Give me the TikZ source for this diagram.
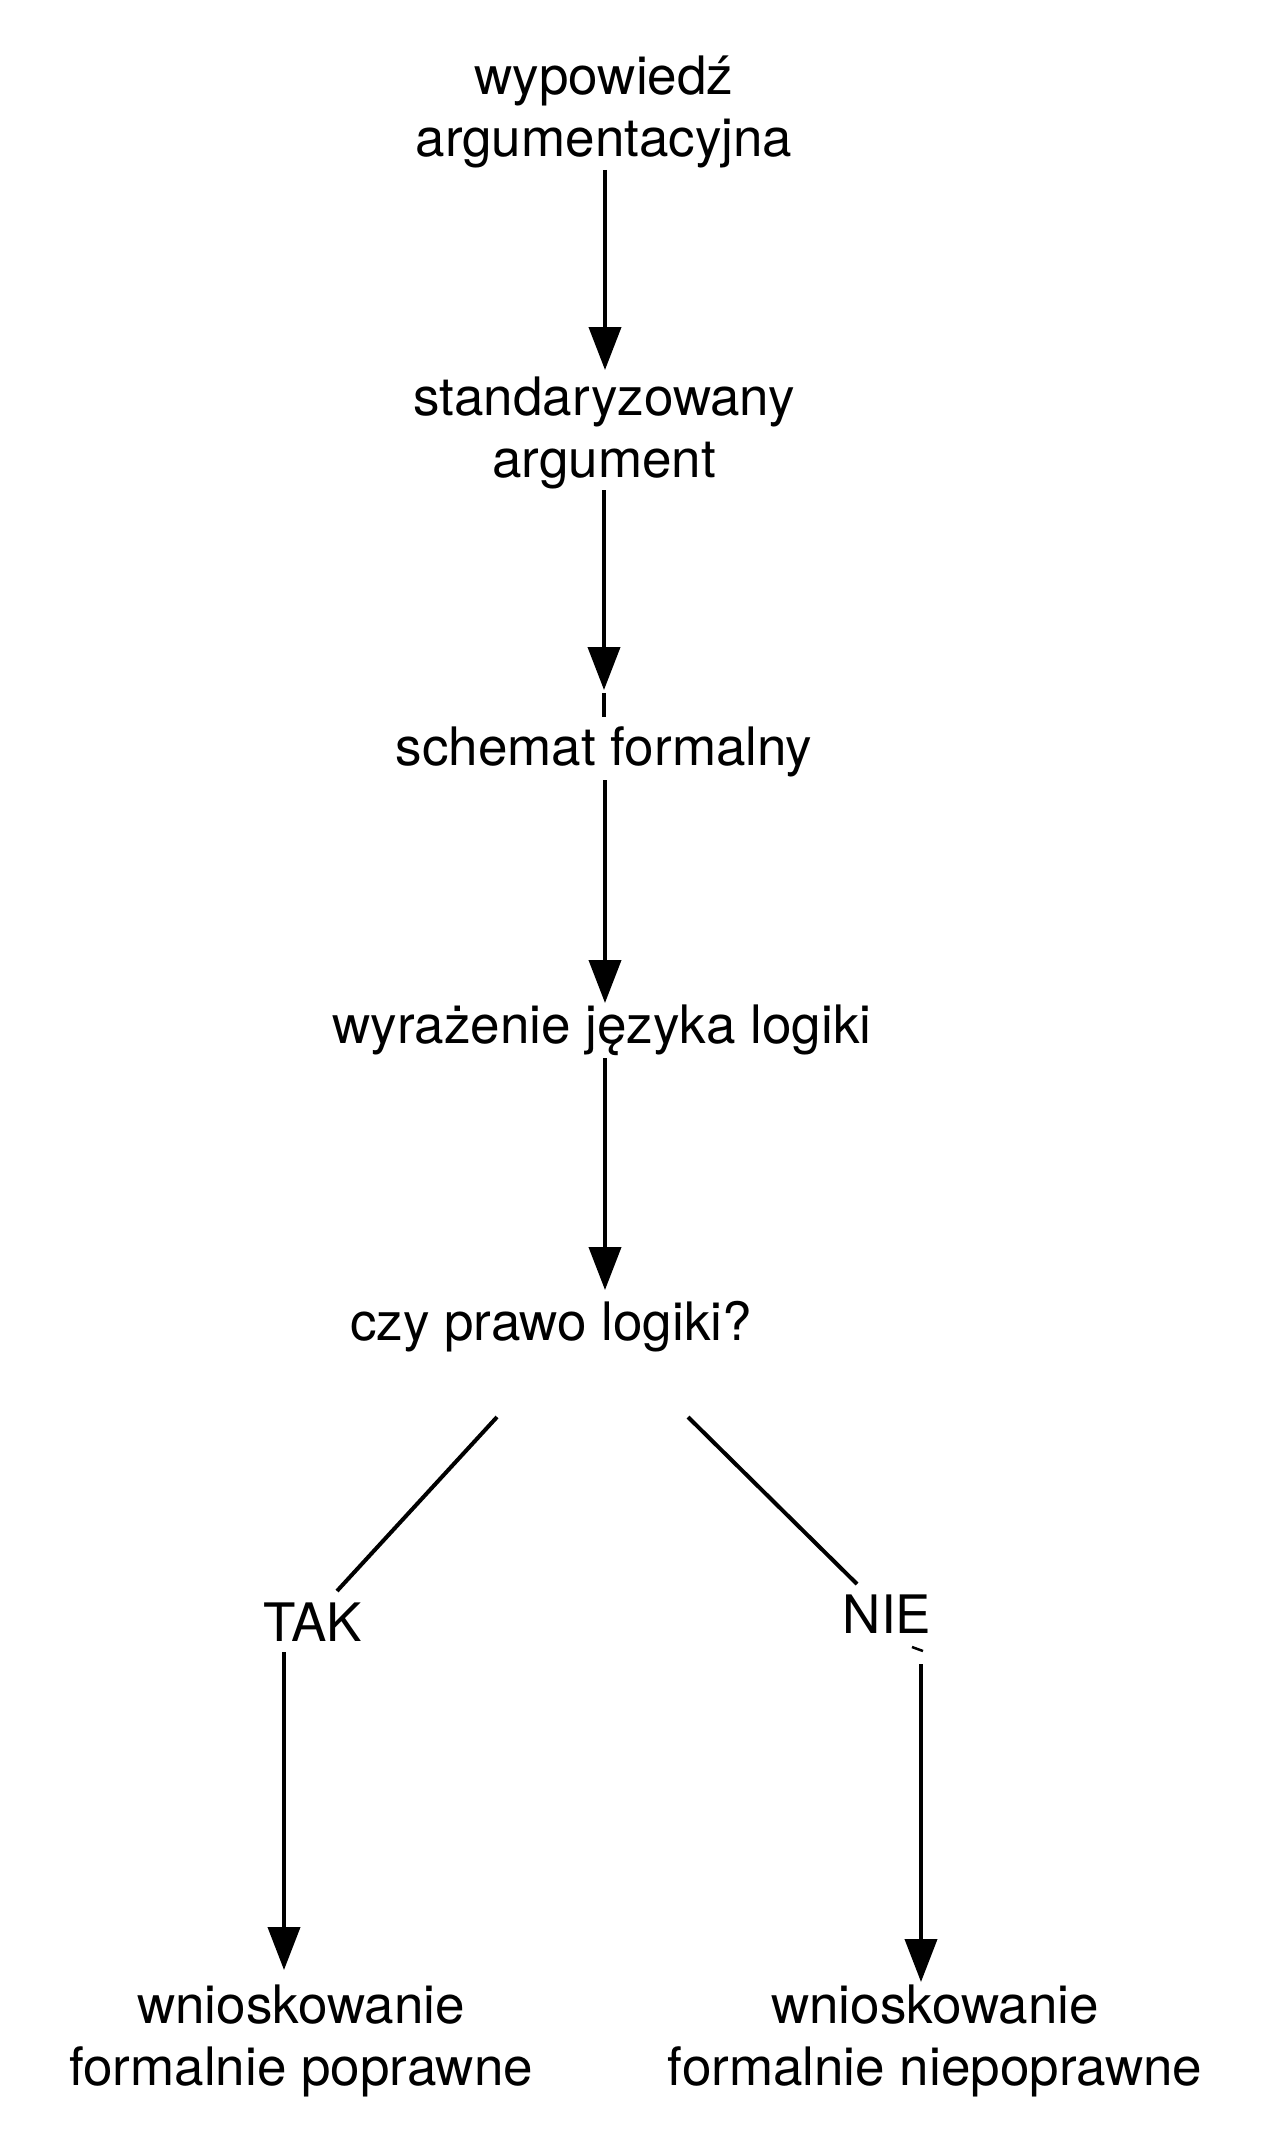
\documentclass[tikz,border=0pt]{standalone}
\usepackage{fontspec}
\setmainfont{TeX Gyre Heros}
\usetikzlibrary{arrows.meta,calc}
\begin{document}
\begin{tikzpicture}[x=1pt,y=-1pt,
  lbl/.style={inner sep=0pt, anchor=base, align=center, font=\fontsize{53}{62}\selectfont},
  ln/.style={line width=4pt},
  arr/.style={ln, -{Triangle[length=43pt,width=32pt]}}]
\useasboundingbox[fill=white] (0,0) rectangle (1276,2143);
\node[lbl] (n1) at (604,157) {wypowiedź\\argumentacyjna};
\node[lbl] (n2) at (604,477) {standaryzowany\\argument};
\node[lbl] (n3) at (604,765) {schemat formalny};
\node[lbl] (n4) at (602,1043) {wyrażenie języka logiki};
\node[lbl] (n5) at (551,1340) {czy prawo logiki?};
\node[lbl] (tak) at (313,1641) {TAK};
\node[lbl] (nie) at (887,1633) {NIE};
\node[lbl] (b1) at (301,2085) {wnioskowanie\\formalnie poprawne};
\node[lbl] (b2) at (935,2085) {wnioskowanie\\formalnie niepoprawne};
% connectors
\draw[arr] ($(n1.base)+(1,13)$) -- ($(n2.base)+(1,-107)$);
\draw[arr] ($(n2.base)+(0,13)$) -- ($(n3.base)+(0,-75)$);
\draw[ln] ($(n3.base)+(0,-72)$) -- ($(n3.base)+(0,-48)$);
\draw[arr] ($(n3.base)+(1,15)$) -- ($(n4.base)+(3,-40)$);
\draw[arr] ($(n4.base)+(3,15)$) -- ($(n5.base)+(54,-50)$);
\draw[ln] ($(n5.base)+(-54,77)$) -- ($(tak.base)+(24,-50)$);
\draw[ln] ($(n5.base)+(137,77)$) -- ($(nie.base)+(-30,-49)$);
\draw[arr] ($(tak.base)+(-29,11)$) -- ($(b1.base)+(-17,-115)$);
\draw[line width=2.5pt] ($(nie.base)+(25,14)$) -- ($(nie.base)+(36,18)$);
\draw[arr] ($(nie.base)+(34,31)$) -- ($(b2.base)+(-14,-103)$);
\end{tikzpicture}
\end{document}
